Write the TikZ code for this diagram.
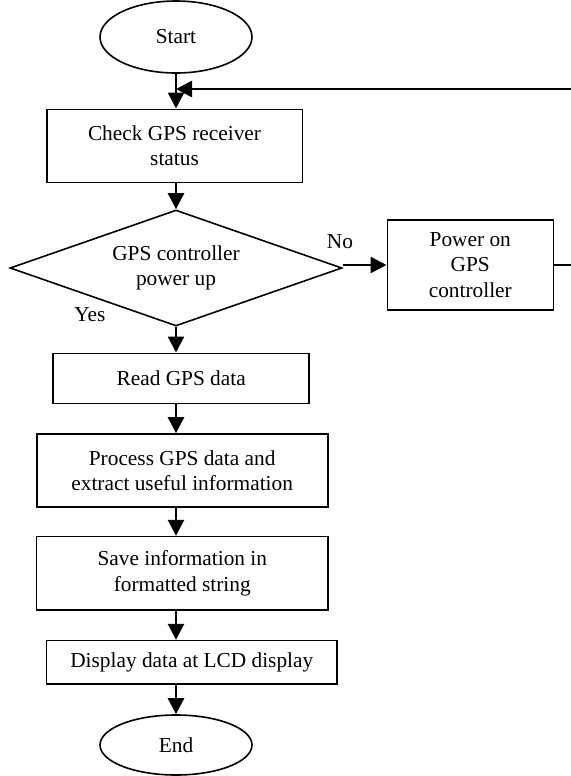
\documentclass[tikz,border=0pt]{standalone}
\usepackage{fontspec}
\setmainfont{Liberation Serif}
\usetikzlibrary{shapes.geometric,arrows.meta}

\tikzset{
  base/.style={draw=black, line width=1.2pt, inner sep=0pt, align=center,
               font=\fontsize{16}{19}\selectfont},
  procbox/.style={base, rectangle},
  termbox/.style={base, ellipse},
  decbox/.style={base, diamond, aspect=2.86},
  flowarrow/.style={line width=1.9pt, -{Triangle[length=12pt,width=12pt]}},
  plainline/.style={line width=1.2pt},
  lbl/.style={font=\fontsize{16}{19}\selectfont, inner sep=0pt}
}

\begin{document}
\begin{tikzpicture}[x=0.75pt, y=-0.75pt]
  \clip (0,0) rectangle (571,776);

  % main column
  \node[termbox, minimum width=114pt, minimum height=54pt] (start) at (176,37) {Start};
  \node[procbox, minimum width=191.7pt, minimum height=54.75pt] (check) at (174.5,145.8)
       {Check GPS receiver\\status};
  \node[decbox, minimum width=249pt, minimum height=87pt] (dia) at (176,268)
       {GPS controller\\power up};
  \node[procbox, minimum width=124.5pt, minimum height=67.5pt] (power) at (470.3,265)
       {Power on\\GPS\\controller};
  \node[procbox, minimum width=192pt, minimum height=37.5pt] (read) at (181.2,378.3)
       {Read GPS data};
  \node[procbox, minimum width=218.25pt, minimum height=54.75pt] (proc) at (182.2,470.5)
       {Process GPS data and\\extract useful information};
  \node[procbox, minimum width=218.5pt, minimum height=55pt] (save) at (182.3,573.3)
       {Save information in\\formatted string};
  \node[procbox, minimum width=217.7pt, minimum height=32.5pt] (disp) at (191.8,662.3)
       {Display data at LCD display};
  \node[termbox, minimum width=114pt, minimum height=45pt] (end) at (176,745) {End};

  % branch labels
  \node[lbl] (nolbl) at (340,242) {No};
  \node[lbl] (yeslbl) at (90,315) {Yes};

  % loop-back route, running off the right edge
  \coordinate (fbA) at (590,265);
  \coordinate (fbB) at (590,89);

  % vertical flow
  \draw[flowarrow] (start.south) -- (check.north -| start.south);
  \draw[flowarrow] (check.south -| start.south) -- (dia.north);
  \draw[flowarrow] (dia.south) -- (read.north -| dia.south);
  \draw[flowarrow] (read.south -| dia.south) -- (proc.north -| dia.south);
  \draw[flowarrow] (proc.south -| dia.south) -- (save.north -| dia.south);
  \draw[flowarrow] (save.south -| dia.south) -- (disp.north -| dia.south);
  \draw[flowarrow] (disp.south -| dia.south) -- (end.north);

  % "No" branch and return
  \draw[flowarrow] (dia.east |- power.west) -- (power.west);
  \draw[plainline] (power.east) -- (fbA) -- (fbB);
  \draw[flowarrow] (fbB) -- (fbB -| start.south);
\end{tikzpicture}
\end{document}
